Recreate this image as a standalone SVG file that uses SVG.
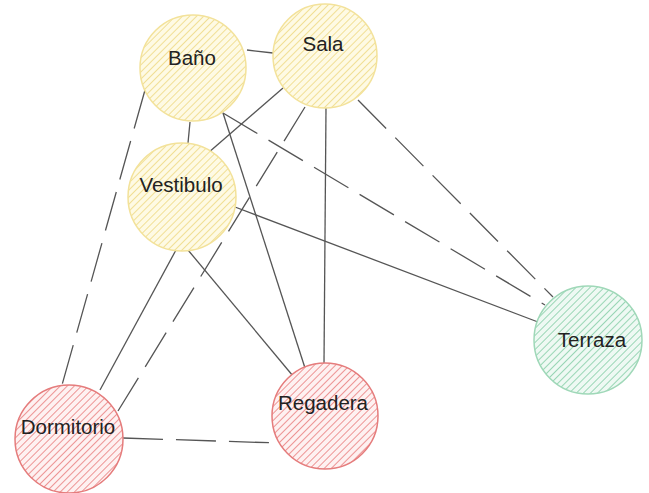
<svg xmlns="http://www.w3.org/2000/svg" width="649" height="493" viewBox="0 0 649 493">
  <defs>
    <!-- diagonal hatch fills for the room circles -->
    <pattern id="hatch-yellow" width="5" height="5" patternUnits="userSpaceOnUse" patternTransform="rotate(45)">
      <rect width="5" height="5" fill="#fefae4"/>
      <line x1="0" y1="0" x2="0" y2="5" stroke="#f0dc8c" stroke-width="1.8"/>
    </pattern>
    <pattern id="hatch-red" width="5" height="5" patternUnits="userSpaceOnUse" patternTransform="rotate(45)">
      <rect width="5" height="5" fill="#fef1f1"/>
      <line x1="0" y1="0" x2="0" y2="5" stroke="#eb8a8a" stroke-width="1.8"/>
    </pattern>
    <pattern id="hatch-green" width="5" height="5" patternUnits="userSpaceOnUse" patternTransform="rotate(45)">
      <rect width="5" height="5" fill="#eef9f3"/>
      <line x1="0" y1="0" x2="0" y2="5" stroke="#8fd2ae" stroke-width="1.8"/>
    </pattern>
  </defs>
  <style>
    .edge { stroke: #555; stroke-width: 1.3; fill: none; }
    .dash { stroke-dasharray: 40 13; }
    .yellow { fill: url(#hatch-yellow); stroke: #f3e29a; stroke-width: 1.5; }
    .red { fill: url(#hatch-red); stroke: #e57c7c; stroke-width: 1.5; }
    .green { fill: url(#hatch-green); stroke: #9fd8b8; stroke-width: 1.5; }
    .label { font-family: "Liberation Sans", Arial, sans-serif; font-size: 20.5px; fill: #222; text-anchor: middle; }
  </style>
  <rect width="649" height="493" fill="#fff"/>

  <g id="connectors">
    <line class="edge" x1="247" y1="50" x2="273" y2="53"/>
    <line class="edge dash" x1="145" y1="90" x2="62" y2="385"/>
    <line class="edge" x1="190" y1="122" x2="188" y2="143"/>
    <line class="edge" x1="223" y1="113" x2="305" y2="368"/>
    <line class="edge dash" x1="223" y1="113" x2="545" y2="305"/>
    <line class="edge" x1="283" y1="88" x2="208" y2="153"/>
    <line class="edge dash" x1="305" y1="107" x2="118" y2="411"/>
    <line class="edge" x1="326" y1="108" x2="324" y2="363"/>
    <line class="edge dash" x1="358" y1="100" x2="553" y2="297"/>
    <line class="edge" x1="235" y1="207" x2="538" y2="322"/>
    <line class="edge" x1="188" y1="250" x2="293" y2="376"/>
    <line class="edge" x1="176" y1="250" x2="100" y2="390"/>
    <line class="edge dash" x1="123" y1="438" x2="278" y2="443"/>
  </g>

  <g id="bano">
    <circle class="yellow" cx="193" cy="68" r="53"/>
    <text class="label" x="192" y="65">Baño</text>
  </g>
  <g id="sala">
    <circle class="yellow" cx="325" cy="56" r="52"/>
    <text class="label" x="323" y="51">Sala</text>
  </g>
  <g id="vestibulo">
    <circle class="yellow" cx="182" cy="197" r="54"/>
    <text class="label" x="181" y="192">Vestibulo</text>
  </g>
  <g id="dormitorio">
    <circle class="red" cx="69" cy="439" r="54"/>
    <text class="label" x="68" y="434">Dormitorio</text>
  </g>
  <g id="regadera">
    <circle class="red" cx="325" cy="416" r="53"/>
    <text class="label" x="323" y="410">Regadera</text>
  </g>
  <g id="terraza">
    <circle class="green" cx="588" cy="340" r="54"/>
    <text class="label" x="592" y="347">Terraza</text>
  </g>
</svg>
